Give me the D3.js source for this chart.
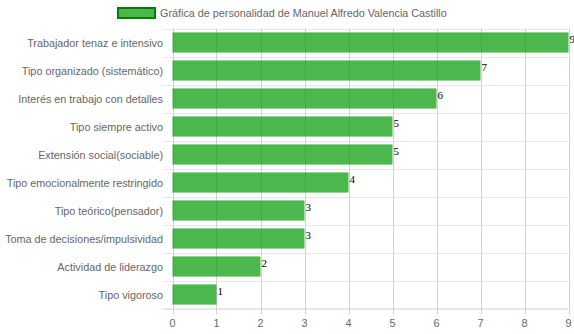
<!DOCTYPE html>
<html>
<head>
<meta charset="utf-8">
<script src="https://cdn.jsdelivr.net/npm/d3@7"></script>
<style>
  html, body { margin: 0; padding: 0; background: #fff; }
  svg { display: block; font-family: "Liberation Sans", Arial, sans-serif; }
</style>
</head>
<body>
<svg id="chart" width="574" height="334"></svg>
<script>
// Personality profile scores
const categories = [
  "Trabajador tenaz e intensivo",
  "Tipo organizado (sistemático)",
  "Interés en trabajo con detalles",
  "Tipo siempre activo",
  "Extensión social(sociable)",
  "Tipo emocionalmente restringido",
  "Tipo teórico(pensador)",
  "Toma de decisiones/impulsividad",
  "Actividad de liderazgo",
  "Tipo vigoroso"
];
const values = [9, 7, 6, 5, 5, 4, 3, 3, 2, 1];
const xTicks = [0, 1, 2, 3, 4, 5, 6, 7, 8, 9];
const legendLabel = "Gráfica de personalidad de Manuel Alfredo Valencia Castillo";

const svg = d3.select("#chart");
const plotLeft = 172.5, plotRight = 568.5, plotTop = 28.5, plotBottom = 308.5;
const fs = 10.8;

const x = d3.scaleLinear().domain([0, 9]).range([plotLeft, plotRight]);
const y = d3.scaleBand().domain(categories).range([plotTop, plotBottom]).paddingInner(0).paddingOuter(0);
const barH = y.bandwidth() * 0.72;

// Legend
const lg = svg.append("g");
lg.append("rect").attr("x", 118).attr("y", 8).attr("width", 37).attr("height", 10)
  .attr("fill", "rgba(0,153,0,0.7)").attr("stroke", "#008000").attr("stroke-width", 2);
lg.append("text").attr("x", 160).attr("y", 17).attr("font-size", fs).attr("fill", "#666")
  .text(legendLabel);

// Horizontal gridlines between categories (with tick marks into the label area)
const hLines = categories.map(c => y(c));
svg.append("g").selectAll("line").data(hLines).join("line")
  .attr("x1", plotLeft - 10).attr("x2", plotRight)
  .attr("y1", d => Math.round(d) + 0.5).attr("y2", d => Math.round(d) + 0.5)
  .attr("stroke", "#e6e6e6").attr("stroke-width", 1);

// Vertical gridlines at each tick
svg.append("g").selectAll("line").data(xTicks).join("line")
  .attr("x1", d => Math.round(x(d)) + 0.5).attr("x2", d => Math.round(x(d)) + 0.5)
  .attr("y1", plotTop).attr("y2", plotBottom + 6)
  .attr("stroke", "#d2d2d2").attr("stroke-width", 1);

// Bottom axis line
svg.append("line").attr("x1", plotLeft - 10).attr("x2", plotRight)
  .attr("y1", plotBottom + 0.5).attr("y2", plotBottom + 0.5)
  .attr("stroke", "#d0d0d0");

// Bars
svg.append("g").selectAll("rect").data(values).join("rect")
  .attr("x", x(0))
  .attr("y", (d, i) => y(categories[i]) + (y.bandwidth() - barH) / 2)
  .attr("width", d => x(d) - x(0))
  .attr("height", barH)
  .attr("fill", "rgba(0,153,0,0.7)");

// Value labels at bar ends
svg.append("g").selectAll("text").data(values).join("text")
  .attr("x", d => x(d) + 1)
  .attr("y", (d, i) => y(categories[i]) + y.bandwidth() / 2 + 0.5)
  .attr("font-family", "'Liberation Serif', 'Times New Roman', serif")
  .attr("font-size", 11).attr("fill", "#000")
  .text(d => d);

// Category labels
svg.append("g").selectAll("text").data(categories).join("text")
  .attr("x", 163).attr("y", d => y(d) + y.bandwidth() / 2 + 4)
  .attr("text-anchor", "end").attr("font-size", fs).attr("fill", "#666")
  .text(d => d);

// X tick labels
svg.append("g").selectAll("text").data(xTicks).join("text")
  .attr("x", d => x(d)).attr("y", 327)
  .attr("text-anchor", "middle").attr("font-size", fs).attr("fill", "#666")
  .text(d => d);
</script>
</body>
</html>
